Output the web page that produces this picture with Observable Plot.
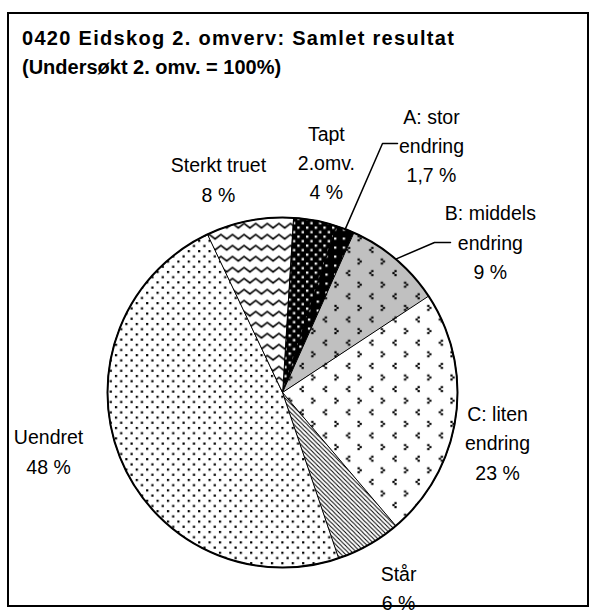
<!DOCTYPE html>
<html><head><meta charset="utf-8">
<script src="https://cdn.jsdelivr.net/npm/d3@7"></script>
<script src="https://cdn.jsdelivr.net/npm/@observablehq/plot@0.6"></script>
<style>
body{margin:0;background:#fff;font-family:"Liberation Sans",Arial,sans-serif;}
#wrap{position:relative;width:595px;height:614px;overflow:hidden;background:#fff;}
#frame{position:absolute;left:7px;top:12px;width:578px;height:591px;border:2px solid #000;}
#title{position:absolute;left:22px;top:24px;font-weight:bold;font-size:20px;line-height:29px;color:#000;white-space:nowrap;}
#chart{position:absolute;left:0;top:0;}
</style></head><body>
<svg width="0" height="0" style="position:absolute"><defs id="pdefs"></defs></svg>
<div id="wrap">
<div id="frame"></div>
<div id="chart"></div>
<div id="title"><div style="letter-spacing:1.3px">0420 Eidskog 2. omverv: Samlet resultat</div><div>(Undersøkt 2. omv. = 100%)</div></div>
</div>
<script>
// ---- data ----
const categories = ["Tapt 2.omv.", "A: stor endring", "B: middels endring", "C: liten endring", "Står", "Uendret", "Sterkt truet"];
const labelNames = ["Tapt\n2.omv.", "A: stor\nendring", "B: middels\nendring", "C: liten\nendring", "Står", "Uendret", "Sterkt truet"];
const values = [4, 1.7, 9, 23, 6, 48, 8];
const valueLabels = ["4 %", "1,7 %", "9 %", "23 %", "6 %", "48 %", "8 %"];

// ---- patterns ----
const T = 23.2;
const glyph = (cx, cy, dir) => {
  // 3 squares forming ">" (dir=1) or "<" (dir=-1)
  const s = 2.2, st = 2;
  return [[0, -st], [dir*st, 0], [0, st]].map(([dx, dy]) =>
    `<rect x="${(cx + dx - s/2).toFixed(2)}" y="${(cy + dy - s/2).toFixed(2)}" width="${s}" height="${s}" fill="#000"/>`).join("");
};
const divot = bg => `<rect width="${T}" height="${T}" fill="${bg}"/>` +
  glyph(10.2, 5.8, 1) + glyph(0.6, 17.4, -1) + glyph(T + 0.6, 17.4, -1);
const defsHtml = `
<pattern id="p0" patternUnits="userSpaceOnUse" width="8.7" height="9"><rect width="8.7" height="9" fill="#000"/><rect x="1" y="1" width="2.3" height="2.3" fill="#fff"/><rect x="5.35" y="5.5" width="2.3" height="2.3" fill="#fff"/></pattern>
<pattern id="p1" patternUnits="userSpaceOnUse" width="8.7" height="9"><rect width="8.7" height="9" fill="#000"/><rect x="3" y="3" width="2.2" height="2.2" fill="#fff"/></pattern>
<pattern id="p2" patternUnits="userSpaceOnUse" width="${T}" height="${T}">${divot("#c0c0c0")}</pattern>
<pattern id="p3" patternUnits="userSpaceOnUse" width="${T}" height="${T}">${divot("#fff")}</pattern>
<pattern id="p4" patternUnits="userSpaceOnUse" width="4.35" height="4.35"><rect width="4.35" height="4.35" fill="#fff"/><path d="M-1,-1L5.35,5.35M-1,3.35L1,5.35M3.35,-1L5.35,1" stroke="#000" stroke-width="1"/></pattern>
<pattern id="p5" patternUnits="userSpaceOnUse" width="10.4" height="10.4"><rect width="10.4" height="10.4" fill="#fff"/><rect x="0" y="0" width="2.2" height="2.2" fill="#000"/><rect x="5.2" y="5.2" width="2.2" height="2.2" fill="#000"/></pattern>
<pattern id="p6" patternUnits="userSpaceOnUse" width="11.6" height="11" ><rect width="11.6" height="11" fill="#fff"/><path d="M-5.8,7.5L0,3L5.8,7.5L11.6,3L17.4,7.5" fill="none" stroke="#000" stroke-width="1.6"/></pattern>`;
document.getElementById("pdefs").innerHTML = defsHtml;

// ---- layout (not data) ----
const cx = 282, cy = 392, R = 175, startDeg = 3.5;
const rad = d => d * Math.PI / 180;
const labelPolar = [[10.7, 236.1], [30.9, 290.2], [53.8, 257.6], [102.7, 220.4], [149.1, 226], [256.3, 240.8], [343.4, 224.3]];
const leaderElbows = {1: [[382, 143], [397, 143]], 2: [[434, 242], [450, 242]]};

const arcs = d3.pie().sort(null).startAngle(rad(startDeg)).endAngle(rad(startDeg) + 2*Math.PI)(values);

const slicePts = [];
arcs.forEach((a, i) => {
  slicePts.push({k: i, x: cx, y: cy});
  const n = Math.max(2, Math.ceil((a.endAngle - a.startAngle) / rad(0.5)));
  for (let j = 0; j <= n; j++) {
    const t = a.startAngle + (a.endAngle - a.startAngle) * j / n;
    slicePts.push({k: i, x: cx + R*Math.sin(t), y: cy - R*Math.cos(t)});
  }
});

const labels = categories.map((c, i) => {
  const [ang, r] = labelPolar[i];
  return {k: i, x: cx + r*Math.sin(rad(ang)), y: cy - r*Math.cos(rad(ang)), text: labelNames[i] + "\n" + valueLabels[i]};
});

const leaders = [];
Object.entries(leaderElbows).forEach(([k, pts]) => {
  const a = arcs[+k];
  const m = (a.startAngle + a.endAngle) / 2;
  leaders.push({k: +k, x: cx + R*Math.sin(m), y: cy - R*Math.cos(m)});
  pts.forEach(([x, y]) => leaders.push({k: +k, x, y}));
});

const chart = Plot.plot({
  width: 595, height: 614, margin: 0,
  style: {fontFamily: "'Liberation Sans', Arial, sans-serif", background: "transparent"},
  x: {domain: [0, 595], range: [0, 595], axis: null},
  y: {domain: [0, 614], range: [0, 614], axis: null},
  color: {type: "identity"},
  marks: [
    Plot.line(slicePts, {x: "x", y: "y", z: "k", fill: d => `url(#p${d.k})`, stroke: "#000", strokeWidth: 1, curve: "linear-closed"}),
    Plot.dot([{x: cx, y: cy}], {x: "x", y: "y", r: R, stroke: "#000", strokeWidth: 2, fill: "none"}),
    Plot.line(leaders, {x: "x", y: "y", z: "k", stroke: "#000", strokeWidth: 1.5}),
    Plot.text(labels, {x: "x", y: "y", text: "text", fontSize: 19.5, lineHeight: 1.5, textAnchor: "middle", fill: "#000"})
  ]
});
document.getElementById("chart").appendChild(chart);
</script>
</body></html>
